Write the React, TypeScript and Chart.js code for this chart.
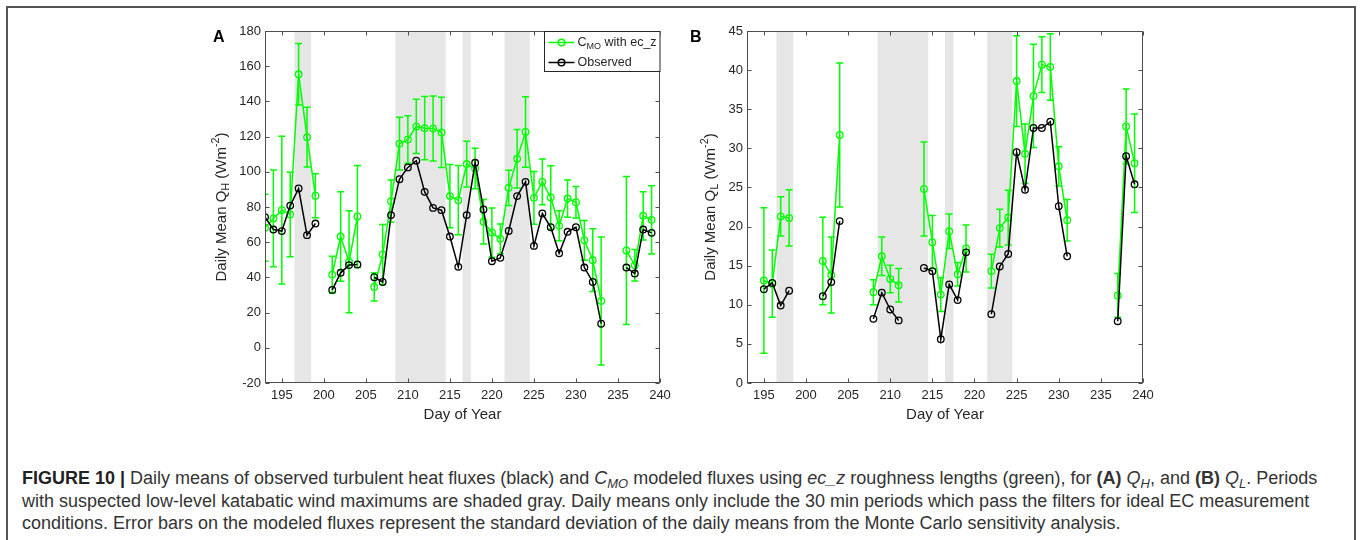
import React, { useEffect, useRef } from "react";
import { Chart, registerables } from "chart.js";

Chart.register(...registerables);

// ---------------- DATA ----------------
const days = [
  193, 194, 195, 196, 197, 198, 199, 200, 201, 202, 203, 204, 205, 206, 207, 208,
  209, 210, 211, 212, 213, 214, 215, 216, 217, 218, 219, 220, 221, 222, 223, 224,
  225, 226, 227, 228, 229, 230, 231, 232, 233, 234, 235, 236, 237, 238, 239,
];

// Panel A: sensible heat flux Q_H
const qhModel = [
  68.2, 73.5, 78.2, 75.7, 155.4, 119.7, 86.4, null, 41.6, 63.2, 48.9, 74.6, null, 34.6, 53, 83.3,
  116, 118.4, 125.8, 124.8, 124.6, 122.4, 86.2, 83.9, 104.4, 101.9, 71.6, 65.5, 61.9, 90.9, 107.4, 122.6,
  85.2, 94.3, 85.4, 69.3, 84.8, 82.7, 61.1, 49.8, 26.6, null, null, 55.3, 46.9, 75, 72.7,
];
const qhModelErr = [
  19, 27.5, 42, 24, 17.5, 17, 12.5, null, 10.4, 25.4, 29, 29, null, 8, 17, 12,
  15, 13.5, 15.4, 18, 18.4, 20, 18, 19.7, 13, 11.5, 12.6, 14, 8.5, 10, 16.6, 20,
  15, 13, 18, 8.5, 10.6, 9, 11.3, 17.8, 36.4, null, null, 42, 9, 13.7, 19.4,
];
const qhObs = [
  74.2, 67.2, 66.3, 80.8, 90.5, 64, 70.6, null, 32.9, 42.6, 47, 47.3, null, 40.1, 37.4, 75.4,
  95.8, 102.5, 106.3, 88.6, 79.5, 78.2, 63.2, 46, 75.4, 105.1, 78.6, 49.2, 51.1, 66.4, 86.2, 94.3,
  57.9, 76.3, 68.5, 53.7, 65.9, 68.5, 45.6, 37.4, 13.7, null, null, 45.6, 42.2, 67.2, 65.3,
];

// Panel B: latent heat flux Q_L
const qlModel = [
  null, null, 13.1, 12.7, 21.3, 21.1, null, null, null, 15.6, 13.8, 31.7, null, null, null, 11.6,
  16.2, 13.3, 12.5, null, null, 24.8, 18.0, 11.3, 19.4, 13.9, 17.2, null, null, 14.3, 19.8, 21.15,
  38.6, 29.3, 36.7, 40.7, 40.4, 27.7, 20.8, null, null, null, null, null, 11.2, 32.8, 28.1,
];
const qlModelErr = [
  null, null, 9.3, 4.3, 2.5, 3.6, null, null, null, 5.6, 4.85, 9.2, null, null, null, 1.6,
  2.45, 1.75, 2.15, null, null, 6, 3.4, 2.15, 2.2, 1.5, 3, null, null, 2.15, 2.4, 3.5,
  5.8, 3.8, 6.6, 3.55, 4.25, 2.5, 2.65, null, null, null, null, null, 2.8, 4.8, 6.3,
];
const qlObs = [
  null, null, 12.0, 12.8, 9.9, 11.8, null, null, null, 11.1, 12.9, 20.7, null, null, null, 8.2,
  11.55, 9.4, 8.0, null, null, 14.7, 14.3, 5.6, 12.6, 10.6, 16.7, null, null, 8.8, 14.9, 16.5,
  29.5, 24.7, 32.6, 32.6, 33.4, 22.6, 16.2, null, null, null, null, null, 7.9, 29.0, 25.4,
];

// Katabatic wind maximum periods (shaded)
const shadeStart = [196.5, 208.5, 216.5, 221.5];
const shadeEnd = [198.5, 214.5, 217.5, 224.5];

const xTicks = [195, 200, 205, 210, 215, 220, 225, 230, 235, 240];
const qhTicks = [-20, 0, 20, 40, 60, 80, 100, 120, 140, 160, 180];
const qlTicks = [0, 5, 10, 15, 20, 25, 30, 35, 40, 45];

const legendLabels = ["with ec_z", "Observed"];

// ---------------- STYLE ----------------
const FONT = "'Liberation Sans', Arial, Helvetica, sans-serif";
const GREEN = "#00ff00";
const BLACK = "#000000";
const AXIS = "#4d4d4d";
const TEXT = "#262626";

type Seg = { t: string; s: "n" | "sub" | "sup" };

function drawSegs(ctx: CanvasRenderingContext2D, segs: Seg[], x: number, y: number, size: number, align: "left" | "center") {
  const small = size * 0.72;
  const widths = segs.map((sg) => {
    ctx.font = `${sg.s === "n" ? size : small}px ${FONT}`;
    return ctx.measureText(sg.t).width;
  });
  const total = widths.reduce((a, b) => a + b, 0);
  let cx = align === "center" ? x - total / 2 : x;
  ctx.textAlign = "left";
  ctx.textBaseline = "middle";
  segs.forEach((sg, i) => {
    ctx.font = `${sg.s === "n" ? size : small}px ${FONT}`;
    const dy = sg.s === "sub" ? size * 0.3 : sg.s === "sup" ? -size * 0.38 : 0;
    ctx.fillText(sg.t, cx, y + dy);
    cx += widths[i];
  });
}

type PanelCfg = {
  letter: string;
  letterX: number;
  yTitleX: number;
  ySub: string;
  model: (number | null)[];
  err: (number | null)[];
  obs: (number | null)[];
  yTicks: number[];
  legend: boolean;
};

function makePlugin(cfg: PanelCfg) {
  return {
    id: "panelDecor",
    beforeDatasetsDraw(chart: any) {
      const { ctx, chartArea: a, scales } = chart;
      const x = scales.x;
      ctx.save();
      ctx.fillStyle = "#e6e6e6";
      for (let i = 0; i < shadeStart.length; i++) {
        const x0 = x.getPixelForValue(shadeStart[i]);
        const x1 = x.getPixelForValue(shadeEnd[i]);
        ctx.fillRect(x0, a.top, x1 - x0, a.bottom - a.top);
      }
      ctx.restore();
    },
    afterDatasetDraw(chart: any, args: any) {
      if (args.index !== 1) return;
      const { ctx, chartArea: a, scales } = chart;
      const x = scales.x;
      const y = scales.y;
      ctx.save();
      ctx.beginPath();
      ctx.rect(a.left, a.top, a.right - a.left, a.bottom - a.top);
      ctx.clip();
      ctx.strokeStyle = GREEN;
      ctx.lineWidth = 1.5;
      days.forEach((d, i) => {
        const v = cfg.model[i];
        const e = cfg.err[i];
        if (v == null || e == null) return;
        const px = x.getPixelForValue(d);
        const t = y.getPixelForValue(v + e);
        const b = y.getPixelForValue(v - e);
        ctx.beginPath();
        ctx.moveTo(px, t);
        ctx.lineTo(px, b);
        ctx.moveTo(px - 3.5, t);
        ctx.lineTo(px + 3.5, t);
        ctx.moveTo(px - 3.5, b);
        ctx.lineTo(px + 3.5, b);
        ctx.stroke();
      });
      ctx.restore();
    },
    afterDraw(chart: any) {
      const { ctx, chartArea: a, scales } = chart;
      const x = scales.x;
      const y = scales.y;
      ctx.save();
      // box
      ctx.strokeStyle = AXIS;
      ctx.lineWidth = 1;
      const L = Math.round(a.left) + 0.5;
      const R = Math.round(a.right) - 0.5;
      const T = Math.round(a.top) + 0.5;
      const B = Math.round(a.bottom) - 0.5;
      ctx.strokeRect(L, T, R - L, B - T);
      // inward ticks
      ctx.beginPath();
      xTicks.forEach((v) => {
        const px = Math.round(x.getPixelForValue(v)) + 0.5;
        ctx.moveTo(px, B);
        ctx.lineTo(px, B - 4);
        ctx.moveTo(px, T);
        ctx.lineTo(px, T + 4);
      });
      cfg.yTicks.forEach((v) => {
        const py = Math.round(y.getPixelForValue(v)) + 0.5;
        ctx.moveTo(L, py);
        ctx.lineTo(L + 4, py);
        ctx.moveTo(R, py);
        ctx.lineTo(R - 4, py);
      });
      ctx.stroke();

      // x title
      ctx.fillStyle = TEXT;
      ctx.font = `15px ${FONT}`;
      ctx.textAlign = "center";
      ctx.textBaseline = "middle";
      ctx.fillText("Day of Year", (a.left + a.right) / 2, 415);

      // y title
      ctx.save();
      ctx.translate(cfg.yTitleX, (a.top + a.bottom) / 2);
      ctx.rotate(-Math.PI / 2);
      drawSegs(
        ctx,
        [
          { t: "Daily Mean Q", s: "n" },
          { t: cfg.ySub, s: "sub" },
          { t: " (Wm", s: "n" },
          { t: "-2", s: "sup" },
          { t: ")", s: "n" },
        ],
        0,
        0,
        15,
        "center"
      );
      ctx.restore();

      // panel letter
      ctx.fillStyle = "#000";
      ctx.font = `bold 16px ${FONT}`;
      ctx.textAlign = "left";
      ctx.textBaseline = "middle";
      ctx.fillText(cfg.letter, cfg.letterX, 38);

      // legend
      if (cfg.legend) {
        const w = 116;
        const h = 40;
        const lx = Math.round(a.right - w) + 0.5;
        const ly = T;
        ctx.fillStyle = "#fff";
        ctx.fillRect(lx, ly, w, h);
        ctx.strokeStyle = TEXT;
        ctx.lineWidth = 1;
        ctx.strokeRect(lx, ly, w - 0.5, h);
        const rows = [
          { c: GREEN, y: ly + 11, segs: [{ t: "C", s: "n" }, { t: "MO", s: "sub" }, { t: " " + legendLabels[0], s: "n" }] as Seg[] },
          { c: BLACK, y: ly + 31, segs: [{ t: legendLabels[1], s: "n" }] as Seg[] },
        ];
        rows.forEach((r) => {
          ctx.strokeStyle = r.c;
          ctx.lineWidth = 1.5;
          ctx.beginPath();
          ctx.moveTo(lx + 4, r.y);
          ctx.lineTo(lx + 30, r.y);
          ctx.stroke();
          ctx.beginPath();
          ctx.arc(lx + 17, r.y, 3.3, 0, Math.PI * 2);
          ctx.stroke();
          ctx.fillStyle = TEXT;
          drawSegs(ctx, r.segs, lx + 33, r.y, 12.5, "left");
        });
      }
      ctx.restore();
    },
  };
}

function Panel(props: {
  cfg: PanelCfg;
  left: number;
  width: number;
  yAxisWidth: number;
  yMin: number;
  yMax: number;
  yStep: number;
}) {
  const ref = useRef<HTMLCanvasElement | null>(null);
  const { cfg, left, width, yAxisWidth, yMin, yMax, yStep } = props;
  const height = 432;
  useEffect(() => {
    if (!ref.current) return;
    const chart = new Chart(ref.current, {
      type: "line",
      data: {
        datasets: [
          {
            label: "Observed",
            data: days.map((d, i) => ({ x: d, y: cfg.obs[i] })) as any,
            borderColor: BLACK,
            borderWidth: 1.5,
            pointRadius: 3.3,
            pointBorderWidth: 1.3,
            pointBorderColor: BLACK,
            pointBackgroundColor: "rgba(255,255,255,0)",
            spanGaps: false,
            tension: 0,
          },
          {
            label: "C_MO with ec_z",
            data: days.map((d, i) => ({ x: d, y: cfg.model[i] })) as any,
            borderColor: GREEN,
            borderWidth: 1.5,
            pointRadius: 3.3,
            pointBorderWidth: 1.3,
            pointBorderColor: GREEN,
            pointBackgroundColor: "rgba(255,255,255,0)",
            spanGaps: false,
            tension: 0,
          },
        ],
      },
      options: {
        animation: false,
        responsive: false,
        devicePixelRatio: 1,
        layout: { padding: { top: 31, right: 20, left: 0, bottom: 0 } },
        plugins: { legend: { display: false }, tooltip: { enabled: false }, title: { display: false } },
        scales: {
          x: {
            type: "linear",
            min: 193,
            max: 240,
            grid: { display: false, drawTicks: false },
            border: { display: false },
            afterBuildTicks: (scale: any) => {
              scale.ticks = xTicks.map((v) => ({ value: v }));
            },
            afterFit: (scale: any) => {
              scale.height = 49;
            },
            ticks: {
              padding: 5,
              maxRotation: 0,
              autoSkip: false,
              color: TEXT,
              font: { family: FONT, size: 13 },
            },
          },
          y: {
            type: "linear",
            min: yMin,
            max: yMax,
            grid: { display: false, drawTicks: false },
            border: { display: false },
            afterFit: (scale: any) => {
              scale.width = yAxisWidth;
            },
            ticks: {
              stepSize: yStep,
              padding: 4,
              color: TEXT,
              font: { family: FONT, size: 13 },
            },
          },
        },
      } as any,
      plugins: [makePlugin(cfg)],
    });
    return () => chart.destroy();
  }, []);
  return (
    <canvas
      ref={ref}
      width={width}
      height={height}
      style={{ position: "absolute", left, top: 0, width, height }}
    />
  );
}

const cfgA: PanelCfg = {
  letter: "A",
  letterX: 13,
  yTitleX: 22,
  ySub: "H",
  model: qhModel,
  err: qhModelErr,
  obs: qhObs,
  yTicks: qhTicks,
  legend: true,
};
const cfgB: PanelCfg = {
  letter: "B",
  letterX: 10,
  yTitleX: 31,
  ySub: "L",
  model: qlModel,
  err: qlModelErr,
  obs: qlObs,
  yTicks: qlTicks,
  legend: false,
};

const subStyle: React.CSSProperties = { fontSize: "0.72em", verticalAlign: "-0.3em", lineHeight: 0 };

export default function App() {
  return (
    <div
      style={{
        position: "fixed",
        left: 0,
        top: 0,
        width: 1360,
        height: 540,
        background: "#fff",
        overflow: "hidden",
        fontFamily: FONT,
      }}
    >
      <div
        style={{
          position: "absolute",
          left: 6,
          top: 6,
          width: 1350,
          height: 600,
          boxSizing: "border-box",
          borderTop: "2px solid #555",
          borderLeft: "2px solid #555",
          borderRight: "2px solid #555",
        }}
      />
      <Panel cfg={cfgA} left={200} width={480} yAxisWidth={65} yMin={-20} yMax={180} yStep={20} />
      <Panel cfg={cfgB} left={680} width={483} yAxisWidth={67} yMin={0} yMax={45} yStep={5} />
      <div
        style={{
          position: "absolute",
          left: 22,
          top: 467,
          fontSize: 18,
          lineHeight: "22.5px",
          color: "#333",
          whiteSpace: "nowrap",
        }}
      >
        <div>
          <b style={{ color: "#222" }}>FIGURE 10 |</b> Daily means of observed turbulent heat fluxes (black) and{" "}
          <i>
            C<sub style={subStyle}>MO</sub>
          </i>{" "}
          modeled fluxes using <i>ec_z</i> roughness lengths (green), for <b>(A)</b>{" "}
          <i>
            Q<sub style={subStyle}>H</sub>
          </i>
          , and <b>(B)</b>{" "}
          <i>
            Q<sub style={subStyle}>L</sub>
          </i>
          . Periods
        </div>
        <div>
          with suspected low-level katabatic wind maximums are shaded gray. Daily means only include the 30 min periods
          which pass the filters for ideal EC measurement
        </div>
        <div>
          conditions. Error bars on the modeled fluxes represent the standard deviation of the daily means from the Monte
          Carlo sensitivity analysis.
        </div>
      </div>
    </div>
  );
}
